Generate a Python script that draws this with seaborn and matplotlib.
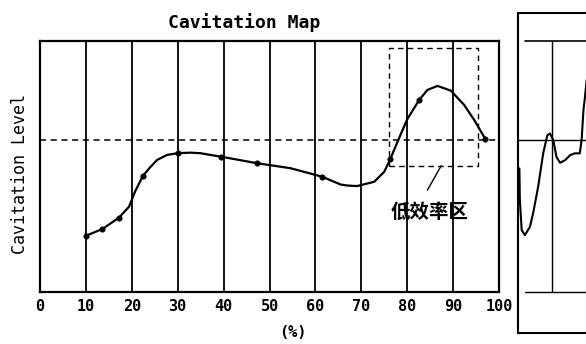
import numpy as np
import pandas as pd
import matplotlib
matplotlib.use("Agg")
import matplotlib.pyplot as plt
import matplotlib.patches as patches
import seaborn as sns

# curve (x in %, y in arbitrary level units 0..100)
curve_x = [10, 13.6, 17.2, 19.4, 20.7, 22.4, 24.0, 25.5, 27.7, 30, 32.8, 34.9, 39.4, 47.3,
           54.6, 61.5, 65.5, 67.0, 69.1, 72.8, 75.0, 76.3, 78.2, 80.0, 82.6, 84.4, 86.6,
           89.5, 92.4, 94.6, 97.0]
curve_y = [22.4, 25.1, 29.6, 34.0, 40.0, 46.2, 49.7, 52.6, 54.6, 55.3, 55.5, 55.3, 53.9, 51.3,
           49.3, 45.9, 42.8, 42.4, 42.2, 43.9, 47.9, 52.9, 61.2, 68.8, 76.5, 80.5, 82.1,
           80.2, 74.5, 68.5, 61.0]

# measured points (dots on the curve)
mark_x = [10, 13.6, 17.2, 22.4, 30, 39.4, 47.3, 61.5, 76.3, 82.6, 97]
mark_y = [22.4, 25.1, 29.6, 46.2, 55.3, 53.9, 51.3, 45.9, 52.9, 76.5, 61.0]

x_ticks = [0, 10, 20, 30, 40, 50, 60, 70, 80, 90, 100]
grid_x = [10, 20, 30, 40, 50, 60, 70, 80, 90]
limit_level = 60.6

# low efficiency zone box
zone_x = [76.1, 95.5]
zone_y = [50.3, 97.3]

# right hand panel (part of a neighbouring chart, cut off)
side_x = [0.3, 0.4, 0.8, 1.5, 2.6, 3.3, 4.4, 5.5, 6.4, 7.0, 7.7, 8.4, 9.2, 10.3, 11.4,
          12.4, 13.5, 13.9, 14.3, 14.6, 15.0]
side_y = [49.3, 36.7, 24.7, 22.7, 26.0, 31.4, 42.0, 55.3, 62.5, 63.2, 60.6, 53.9, 51.5,
          52.6, 54.6, 55.3, 55.3, 60.6, 72.5, 77.2, 84.5]

sns.set_style("white")
plt.rcParams['font.family'] = ['DejaVu Sans Mono', 'Noto Sans CJK SC']
plt.rcParams['text.color'] = 'black'
plt.rcParams['xtick.color'] = 'black'

fig = plt.figure(figsize=(5.86, 3.44), dpi=100)
ax = fig.add_axes([0.0683, 0.1512, 0.7833, 0.7297])

df = pd.DataFrame({"x": curve_x, "y": curve_y})
pts = pd.DataFrame({"x": mark_x, "y": mark_y})

for gx in grid_x:
    ax.axvline(gx, color="black", lw=1.3, zorder=1)
ax.axhline(limit_level, color="black", lw=1.1, ls=(0, (4, 3)), zorder=1)

sns.lineplot(data=df, x="x", y="y", ax=ax, color="black", lw=1.6, sort=False, zorder=3)
sns.scatterplot(data=pts, x="x", y="y", ax=ax, color="black", s=16, edgecolor="black",
                zorder=4)

ax.add_patch(patches.Rectangle((zone_x[0], zone_y[0]), zone_x[1] - zone_x[0],
                               zone_y[1] - zone_y[0], fill=False, ec="black", lw=1.0,
                               ls=(0, (4, 3)), zorder=2))
ax.plot([87.4, 84.4], [50.3, 40.6], color="black", lw=1.0)
ax.text(84.9, 31.6, "低效率区", ha="center", va="center", fontsize=14, fontweight="bold",
        family=['Noto Sans CJK SC', 'DejaVu Sans'], color="black")

ax.set_xlim(0, 100)
ax.set_ylim(0, 100)
ax.set_xticks(x_ticks)
ax.set_xticklabels([str(t) for t in x_ticks], fontsize=11, fontweight="bold")
ax.set_yticks([])
ax.tick_params(axis="x", length=0, pad=5)
ax.set_xlabel("")
ax.set_ylabel("")
for s in ax.spines.values():
    s.set_color("black")
    s.set_linewidth(1.6)

fig.text(0.416, 0.936, "Cavitation Map", ha="center", va="center", fontsize=13,
         fontweight="bold")
fig.text(0.034, 0.494, "Cavitation Level", ha="center", va="center", rotation=90,
         fontsize=12)
fig.text(0.5, 0.032, "(%)", ha="center", va="center", fontsize=11, fontweight="bold")

# neighbouring panel
ax2 = fig.add_axes([0.884, 0.032, 0.203, 0.930])
side = pd.DataFrame({"x": side_x, "y": side_y})
ax2.set_xlim(0, 26)
ax2.set_ylim(-16.3, 111.2)
ax2.plot([1.5, 26], [100, 100], color="black", lw=1.2)
ax2.plot([0, 26], [limit_level, limit_level], color="black", lw=1.0)
ax2.plot([1.5, 26], [0, 0], color="black", lw=1.0)
ax2.plot([7.5, 7.5], [0, 100], color="black", lw=1.0)
sns.lineplot(data=side, x="x", y="y", ax=ax2, color="black", lw=1.5, sort=False)
ax2.set_xticks([])
ax2.set_yticks([])
ax2.set_xlabel("")
ax2.set_ylabel("")
for s in ax2.spines.values():
    s.set_color("black")
    s.set_linewidth(1.5)

fig.savefig("out.png", dpi=100)
